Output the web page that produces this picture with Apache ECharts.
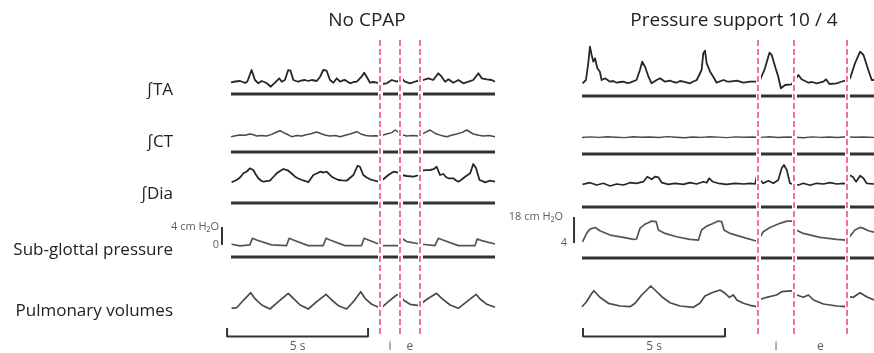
<!DOCTYPE html>
<html>
<head>
<meta charset="utf-8">
<script src="https://cdn.jsdelivr.net/npm/echarts@6/dist/echarts.min.js"></script>
<style>html,body{margin:0;padding:0;background:#fff;}#c{width:874px;height:353px;}</style>
</head>
<body>
<div id="c"></div>
<script>
// ---------- DATA (time in s) ----------
const panelTitles = ['No CPAP', 'Pressure support 10 / 4'];
const rowLabels = ['\u222BTA', '\u222BCT', '\u222BDia', 'Sub-glottal pressure', 'Pulmonary volumes'];
const phaseLabels = ['i', 'e'];
const timeScaleSeconds = 5;
const timeScaleText = '5 s';
const durationLeft = 9.36;
const durationRight = 10.28;
const redLinesLeft = [5.28, 5.99, 6.70];
const redLinesRight = [6.20, 7.46, 9.33];
const pressureScaleLeft = [0, 4];
const pressureScaleLeftText = ['0', '4 cm H\u2082O'];
const pressureScaleRight = [4, 18];
const pressureScaleRightText = ['4', '18 cm H\u2082O'];

const leftTA = [[0,11.7],[0.15,12.5],[0.32,13],[0.42,12],[0.5,11],[0.58,12.5],[0.65,14],[0.73,24],[0.79,24],[0.85,14],[0.97,10.7],[1.09,13],[1.18,12],[1.27,10.7],[1.41,7.3],[1.56,11.3],[1.71,15.7],[1.8,12.3],[1.91,14],[2.03,24],[2.11,23.3],[2.21,14],[2.3,13],[2.39,12.3],[2.5,13.5],[2.62,14],[2.74,13],[2.86,14],[3.04,13],[3.16,17.3],[3.27,24],[3.39,23.3],[3.51,14],[3.63,11.3],[3.75,15.7],[3.87,12.3],[3.95,13.5],[4.04,14],[4.22,10.7],[4.35,12],[4.46,12.3],[4.63,17.3],[4.72,21.3],[4.81,17.3],[4.93,11.3],[5.05,12],[5.17,11.3],[5.34,10],[5.52,10.7],[5.7,14],[5.88,12.3],[6.05,15.7],[6.17,12.3],[6.35,10.7],[6.59,13],[6.82,14],[7.0,15.7],[7.17,14],[7.35,20.7],[7.47,17.3],[7.59,12.3],[7.71,14.7],[7.88,11.3],[8.06,14],[8.24,10.7],[8.42,12.3],[8.59,14],[8.77,20.7],[8.89,15.7],[9.07,14.7],[9.24,14],[9.36,12.3]];
const leftCT = [[0,15.3],[0.16,16.2],[0.32,17],[0.5,16.8],[0.67,18],[0.8,17.2],[0.91,16],[1.08,16.6],[1.26,16],[1.42,17.4],[1.56,19.3],[1.74,21.3],[1.91,18.7],[2.03,17.2],[2.15,15.3],[2.33,16.4],[2.51,16],[2.66,17.2],[2.8,18],[3.04,20],[3.22,18],[3.36,16.8],[3.51,16],[3.7,16.4],[3.87,15.3],[4.05,16.8],[4.22,18],[4.46,20.3],[4.63,17.7],[4.78,16.6],[4.93,16],[5.1,16.3],[5.26,16],[5.52,18],[5.7,19.4],[5.82,22],[5.99,18.7],[6.1,17],[6.23,16],[6.45,16.5],[6.64,16],[6.82,18.7],[7.06,22],[7.18,19.6],[7.29,18],[7.45,16.6],[7.65,15.3],[7.82,16.7],[8.0,18],[8.2,19.6],[8.36,22],[8.59,18],[8.78,16.8],[8.95,16],[9.15,16.4],[9.36,15.3]];
const leftDia = [[0.02,20.7],[0.2,23],[0.32,25.5],[0.44,29.7],[0.56,31.5],[0.67,34.7],[0.79,33],[0.88,28.5],[0.97,24.7],[1.06,22.5],[1.15,21.3],[1.38,22.3],[1.5,26],[1.62,29.7],[1.74,32],[1.86,34],[2.03,32.3],[2.15,29.5],[2.27,26.3],[2.39,24.5],[2.51,23],[2.62,22.2],[2.74,20.7],[2.92,28],[3.04,29.5],[3.16,31.3],[3.28,30.5],[3.39,31.3],[3.57,26.3],[3.69,24.5],[3.81,23],[3.95,22.6],[4.1,22.3],[4.34,28],[4.49,37.3],[4.57,36.3],[4.69,28],[4.81,25.5],[4.93,23.7],[5.08,22.5],[5.22,21.3],[5.4,23.7],[5.58,28],[5.76,31.3],[5.93,30.3],[6.05,28],[6.23,27],[6.47,26.3],[6.68,28],[6.76,32.3],[6.9,32.8],[7.06,33],[7.18,33.8],[7.29,36.3],[7.41,28],[7.53,29],[7.62,26],[7.71,24.7],[7.88,24.7],[7.97,22.8],[8.06,21.3],[8.18,23.5],[8.3,26.3],[8.48,29.7],[8.59,39],[8.69,34.7],[8.81,23],[8.92,21.8],[9.01,20.7],[9.18,22.3],[9.36,21.3]];
const leftSub = [[0.02,0.15],[0.32,-0.2],[0.67,0],[0.76,1.48],[0.91,1.1],[1.44,0],[1.97,-0.15],[2.06,1.48],[2.21,1.1],[2.74,-0.15],[3.27,-0.15],[3.37,1.48],[3.51,1.1],[4.04,-0.15],[4.63,-0.15],[4.72,1.48],[4.87,1.1],[5.26,0.15],[5.34,-0.15],[5.93,-0.15],[6.05,1.48],[6.23,0.75],[6.7,0.2],[7.23,-0.15],[7.35,1.48],[7.51,1.1],[8.06,-0.15],[8.65,-0.15],[8.73,1.33],[8.89,0.96],[9.36,0.2]];
const leftPulm = [[0.02,11.7],[0.2,12.3],[0.44,19.7],[0.7,27.3],[0.85,21.3],[1.09,15],[1.38,11],[1.68,18.3],[2.03,26.7],[2.21,21.7],[2.45,15],[2.74,11],[3.04,18.3],[3.37,25.7],[3.57,20],[3.81,14.3],[4.1,11],[4.34,18.3],[4.6,28.3],[4.75,21.7],[4.99,15.7],[5.31,11.7],[5.58,18.3],[5.87,25],[5.99,26],[6.11,20],[6.35,15.7],[6.68,14.3],[6.76,16.7],[7.0,21.7],[7.29,26.7],[7.47,21.7],[7.77,15],[8.06,11.7],[8.36,18.3],[8.69,25.7],[8.83,21],[9.07,15.7],[9.36,12.7]];

const rightTA = [[0.02,12.7],[0.14,16],[0.22,32.7],[0.28,49.3],[0.34,41],[0.4,34.3],[0.46,37.7],[0.54,27.7],[0.63,24.3],[0.69,16],[0.81,17.7],[0.99,14.3],[1.1,15],[1.22,13.3],[1.35,14],[1.46,14.3],[1.58,13],[1.69,13.3],[1.92,16],[2.04,26],[2.12,34.3],[2.22,29.3],[2.34,19.3],[2.45,12.7],[2.63,16],[2.75,17.7],[2.92,14.3],[3.1,15.3],[3.22,14],[3.33,13.3],[3.45,15],[3.57,14.3],[3.8,12.7],[3.92,14.5],[4.04,16],[4.21,26],[4.27,42.7],[4.33,45.3],[4.39,32.7],[4.51,24.3],[4.62,19.3],[4.74,13.3],[4.98,16],[5.1,14.6],[5.21,14.3],[5.45,15.3],[5.68,13.3],[5.92,14.3],[6.13,14.3],[6.27,16],[6.44,27.7],[6.6,43.3],[6.68,41],[6.8,29.3],[6.91,19.3],[7.0,7.7],[7.15,11],[7.38,11.7],[7.54,17.7],[7.62,21],[7.73,16.7],[7.97,13.3],[8.1,14],[8.26,12.7],[8.5,14.3],[8.59,16.7],[8.71,12],[8.97,12.7],[9.1,14],[9.26,15.3],[9.44,17.7],[9.61,32.7],[9.79,44.3],[9.91,41],[10.08,26],[10.2,16],[10.28,16]];
const rightCT = [[0,16.5],[0.3,17.1],[0.6,16.6],[0.9,17.3],[1.2,16.8],[1.5,16.4],[1.8,17.2],[2.1,16.7],[2.4,17.0],[2.7,16.5],[3.0,17.4],[3.3,16.8],[3.6,16.3],[3.9,17.0],[4.2,16.6],[4.5,17.2],[4.8,16.9],[5.1,16.4],[5.4,17.1],[5.7,16.7],[6.0,17.0],[6.3,16.6],[6.6,17.2],[6.9,16.5],[7.2,17.0],[7.5,16.8],[7.8,16.2],[8.1,17.1],[8.4,16.6],[8.7,17.0],[9.0,16.5],[9.3,17.2],[9.6,16.7],[9.9,17.0],[10.28,16.6]];
const rightDia = [[0.02,22.7],[0.28,24.3],[0.52,22],[0.75,23.7],[0.99,21],[1.22,23],[1.46,22],[1.69,24.3],[1.92,23.7],[2.16,25.3],[2.3,30.3],[2.45,27.7],[2.57,30.3],[2.69,29.7],[2.81,24.3],[3.04,22.7],[3.27,23.7],[3.57,22.7],[3.8,24.3],[4.04,23],[4.27,25.3],[4.39,24.3],[4.48,28.7],[4.6,25.3],[4.8,23.7],[5.09,22.7],[5.39,23.7],[5.68,23],[5.92,23.7],[6.09,23],[6.15,30.3],[6.27,27],[6.38,23.7],[6.56,26.3],[6.74,23.7],[6.91,27],[7.03,38.7],[7.11,42],[7.21,37],[7.32,23.7],[7.42,22.7],[7.62,22],[7.79,23.7],[8.03,21.7],[8.26,23.7],[8.5,23],[8.73,24.3],[8.97,23],[9.2,23.7],[9.3,23],[9.41,32],[9.53,30.3],[9.65,25.3],[9.79,31.3],[9.91,28.7],[10.02,23.7],[10.28,23]];
const rightSub = [[0.02,4.7],[0.16,9.2],[0.28,11.5],[0.46,12.4],[0.63,10.6],[0.99,8.3],[1.46,7.1],[1.81,6],[1.92,6.2],[2.04,11.9],[2.22,14.2],[2.34,14.9],[2.45,15.8],[2.61,15.5],[2.69,11],[2.92,9.2],[3.33,7.4],[3.8,6],[4.1,5.6],[4.21,11],[4.39,13.1],[4.57,14.2],[4.8,15.8],[4.92,15.5],[5.0,11],[5.21,9.2],[5.68,7.1],[6.13,5.1],[6.21,5.6],[6.38,10.1],[6.62,12.4],[6.97,14.6],[7.21,15.8],[7.42,15.8],[7.54,11],[7.79,9.2],[8.38,7.1],[8.97,6],[9.3,5.6],[9.41,7.1],[9.61,11],[9.79,12.4],[9.91,11.9],[10.08,10.6],[10.28,9.9]];
const rightPulm = [[0,13.3],[0.16,18.3],[0.34,26.5],[0.42,29.3],[0.63,22.7],[0.93,16.7],[1.34,14],[1.69,13.3],[1.87,16.7],[2.1,25],[2.28,30],[2.42,34],[2.57,30],[2.81,23.3],[3.1,17.3],[3.45,14],[3.92,12.7],[4.15,16.7],[4.33,24],[4.57,27.3],[4.86,30],[5.04,26.7],[5.19,22.7],[5.33,25],[5.45,20],[5.68,16.7],[5.92,14.7],[6.15,13.3],[6.21,20],[6.5,22.7],[6.85,25],[7.03,28.3],[7.44,29.3],[7.56,25],[7.79,22.7],[7.97,25],[8.15,20],[8.5,16],[8.97,14],[9.26,13.3],[9.38,23.3],[9.55,22.7],[9.79,27.3],[10.02,23.3],[10.28,20]];

// ---------- LAYOUT ----------
const FONT = '"Open Sans", Roboto, sans-serif';
const PAD = 0.5; // seconds of room left of each trace for the scale bars
const panels = [
  { left: 231, width: 264, max: durationLeft, rows: [
      { top: 64, height: 30, min: 0, max: 30, data: leftTA, color: '#262626', w: 1.8, base: true },
      { top: 122, height: 30, min: 0, max: 30, data: leftCT, color: '#4a4a4a', w: 1.5, base: true },
      { top: 161, height: 42, min: 0, max: 42, data: leftDia, color: '#262626', w: 1.8, base: true },
      { top: 227, height: 30, min: -2.7, max: 4, data: leftSub, color: '#555', w: 1.7, base: true },
      { top: 280, height: 40, min: 0, max: 40, data: leftPulm, color: '#4a4a4a', w: 1.7, base: false }
    ], red: redLinesLeft, tStart: -0.14, pBarX: -0.32, pScale: pressureScaleLeft, pText: pressureScaleLeftText, pDist: [3, 3] },
  { left: 582, width: 292, max: durationRight, rows: [
      { top: 41, height: 55, min: 0, max: 55, data: rightTA, color: '#262626', w: 1.8, base: true },
      { top: 124, height: 30, min: 0, max: 30, data: rightCT, color: '#4a4a4a', w: 1.4, base: true },
      { top: 157, height: 50, min: 0, max: 50, data: rightDia, color: '#262626', w: 1.7, base: true },
      { top: 217, height: 41, min: -4, max: 18, data: rightSub, color: '#555', w: 1.7, base: true },
      { top: 270, height: 50, min: 0, max: 50, data: rightPulm, color: '#4a4a4a', w: 1.7, base: false }
    ], red: redLinesRight, tStart: 0.035, pBarX: -0.28, pScale: pressureScaleRight, pText: pressureScaleRightText, pDist: [7, 11] }
];

const grid = [], xAxis = [], yAxis = [], series = [];
function addGrid(p, top, height, ymin, ymax) {
  const i = grid.length;
  const pps = p.width / p.max;
  grid.push({ left: p.left - PAD * pps, width: p.width + PAD * pps, top: top, height: height, containLabel: false });
  xAxis.push({ type: 'value', gridIndex: i, min: -PAD, max: p.max, show: false });
  yAxis.push({ type: 'value', gridIndex: i, min: ymin, max: ymax, show: false });
  return i;
}

panels.forEach((p) => {
  const idx = [];
  p.rows.forEach(r => {
    const i = addGrid(p, r.top, r.height, r.min, r.max);
    idx.push(i);
    if (r.base) {
      series.push({ type: 'line', xAxisIndex: i, yAxisIndex: i, clip: false, symbol: 'none', z: 2,
        data: [[0, r.min], [p.max, r.min]], lineStyle: { color: '#333', width: 3 }, animation: false });
    }
    series.push({ type: 'line', xAxisIndex: i, yAxisIndex: i, data: r.data, symbol: 'none', clip: false,
      lineStyle: { color: r.color, width: r.w, join: 'round' }, z: 3, animation: false });
  });
  // pressure scale bar (sub-glottal row)
  const si = idx[3];
  series.push({ type: 'line', xAxisIndex: si, yAxisIndex: si, clip: false, symbol: 'none', z: 4,
    data: [[p.pBarX, p.pScale[0]], [p.pBarX, p.pScale[1]]], lineStyle: { color: '#333', width: 2 }, animation: false });
  series.push({ type: 'scatter', xAxisIndex: si, yAxisIndex: si, clip: false, symbolSize: 0,
    data: [
      { value: [p.pBarX, p.pScale[0]], label: { show: true, position: 'left', distance: p.pDist[0], formatter: p.pText[0] } },
      { value: [p.pBarX, p.pScale[1]], label: { show: true, position: 'left', distance: p.pDist[1], formatter: p.pText[1] } }
    ],
    label: { color: '#333', fontSize: 11, fontFamily: FONT }, animation: false });
  // time scale bar (in pulmonary row, below the trace)
  const vi = idx[4];
  const t0 = p.tStart, t1 = p.tStart + timeScaleSeconds;
  series.push({ type: 'line', xAxisIndex: vi, yAxisIndex: vi, clip: false, symbol: 'none',
    data: [[t0, -8], [t0, -16.5], [t1, -16.5], [t1, -8]], lineStyle: { color: '#333', width: 2 }, animation: false });
  const mids = [(p.red[0] + p.red[1]) / 2, (p.red[1] + p.red[2]) / 2];
  series.push({ type: 'scatter', xAxisIndex: vi, yAxisIndex: vi, clip: false, symbolSize: 0,
    data: [
      { value: [(t0 + t1) / 2, -27], label: { show: true, position: 'inside', formatter: timeScaleText } },
      { value: [mids[0], -27], label: { show: true, position: 'inside', formatter: phaseLabels[0] } },
      { value: [mids[1], -27], label: { show: true, position: 'inside', formatter: phaseLabels[1] } }
    ],
    label: { color: '#333', fontSize: 12, fontFamily: FONT }, animation: false });
  // red dashed phase markers on an overlay grid
  const oi = addGrid(p, 38, 296, 0, 1);
  const mk = (style, z) => ({ type: 'line', xAxisIndex: oi, yAxisIndex: oi, data: [], z: z, animation: false,
    markLine: { silent: true, symbol: ['none', 'none'], label: { show: false }, animation: false,
      lineStyle: style, data: p.red.map(t => ({ xAxis: t })) } });
  series.push(mk({ color: '#ffffff', width: 5, type: 'solid' }, 8));
  series.push(mk({ color: '#f0506e', width: 1.6, type: [6, 3] }, 9));
});

const rowY = [90, 142, 194, 250, 311];
const option = {
  backgroundColor: '#ffffff',
  animation: false,
  title: [
    { text: panelTitles[0], left: 362, top: 6, textAlign: 'center', textStyle: { fontSize: 19, fontWeight: 'normal', color: '#222', fontFamily: FONT } },
    { text: panelTitles[1], left: 729, top: 6, textAlign: 'center', textStyle: { fontSize: 19, fontWeight: 'normal', color: '#222', fontFamily: FONT } }
  ],
  graphic: rowLabels.map((t, i) => ({ type: 'text', x: 173, y: rowY[i],
    style: { text: t, fill: '#222', fontSize: 17, fontFamily: FONT, textAlign: 'right', textVerticalAlign: 'middle' } })),
  grid, xAxis, yAxis, series
};
const chart = echarts.init(document.getElementById('c'), null, { renderer: 'canvas' });
chart.setOption(option);
</script>
</body>
</html>
